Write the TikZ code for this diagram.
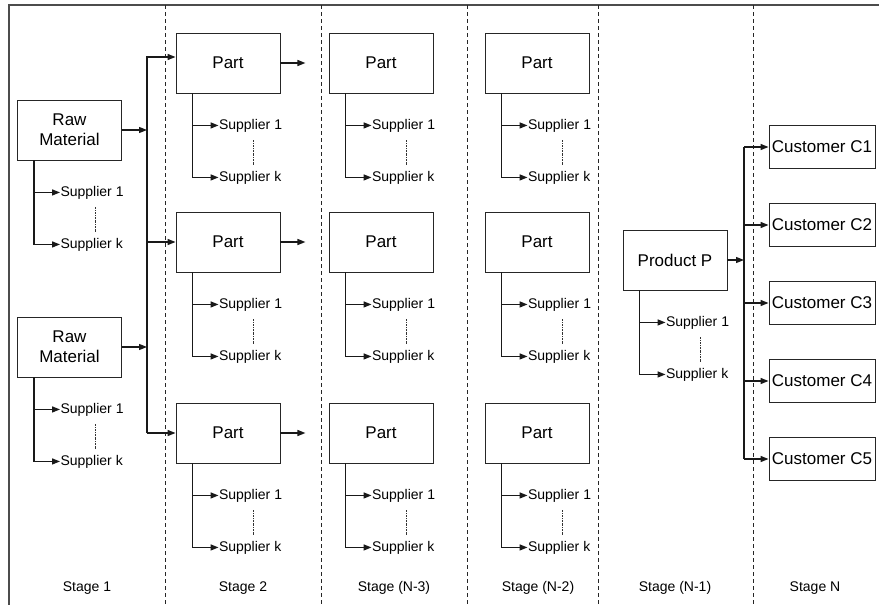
\documentclass[tikz,border=0pt]{standalone}
\usepackage{fontspec}
\setmainfont{Liberation Sans}
\usetikzlibrary{arrows.meta,calc}

% supplier branch hanging below a box: Supplier 1 ... Supplier k
\newcommand{\supplierpair}[1]{%
  \coordinate (#1v) at ($(#1.south west)+(17,0)$);
  \node[suptext] (#1s1) at ($(#1v)+(26,32)$) {Supplier 1};
  \node[suptext] (#1sk) at ($(#1v)+(26,84)$) {Supplier k};
  \draw[arr] (#1v) |- (#1sk.west);
  \draw[arr] (#1v |- #1s1.west) -- (#1s1.west);
  \draw[gap] ($(#1s1.west)+(35,15)$) -- ($(#1sk.west)+(35,-12)$);
}

\begin{document}
\begin{tikzpicture}[x=1pt,y=-1pt,
  box/.style={draw=black!85,line width=0.9pt,minimum width=104pt,minimum height=60pt,
    inner sep=2pt,font=\fontsize{17}{20}\selectfont,align=center},
  custbox/.style={box,minimum width=106pt,minimum height=43pt},
  link/.style={line width=1.3pt,draw=black!90},
  arr/.style={link,-{Triangle[length=8pt,width=6pt]}},
  suptext/.style={anchor=west,inner sep=0.3pt,font=\fontsize{14}{16}\selectfont},
  stagetext/.style={inner sep=0pt,font=\fontsize{14}{16}\selectfont},
  gap/.style={line width=0.7pt,dash pattern=on 2pt off 1pt on 0.6pt off 1pt,draw=black!80},
  divider/.style={line width=0.9pt,dash pattern=on 4pt off 3pt,draw=black!85},
  frame/.style={line width=1.6pt,draw=black!70}]

\useasboundingbox (0,0) rectangle (879,605);

% outer frame (top and left edges)
\draw[frame] (9,605) -- (9,5) -- (879,5);

% stage dividers
\foreach \xd in {165,321,467,598,753}{
  \draw[divider] (\xd,5) -- (\xd,605);
}

% stage 1: raw materials
\node[box] (raw1) at (69.5,130) {Raw\\Material};
\node[box] (raw2) at (69.5,347) {Raw\\Material};
\supplierpair{raw1}
\supplierpair{raw2}

% stage 2, (N-3), (N-2): parts
\node[box] (p21) at (228,63)  {Part};
\node[box] (p22) at (228,242) {Part};
\node[box] (p23) at (228,433) {Part};
\node[box] (p31) at (381,63)  {Part};
\node[box] (p32) at (381,242) {Part};
\node[box] (p33) at (381,433) {Part};
\node[box] (p41) at (537,63)  {Part};
\node[box] (p42) at (537,242) {Part};
\node[box] (p43) at (537,433) {Part};
\supplierpair{p21}
\supplierpair{p22}
\supplierpair{p23}
\supplierpair{p31}
\supplierpair{p32}
\supplierpair{p33}
\supplierpair{p41}
\supplierpair{p42}
\supplierpair{p43}

% raw materials feed the parts through a common bus
\coordinate (busA) at (147,0);
\coordinate (in21) at ([yshift=6pt]p21.west);
\draw[arr] (raw1.east) -- (raw1.east -| busA);
\draw[arr] (raw2.east) -- (raw2.east -| busA);
\draw[arr] (busA |- p23.west) |- (in21);
\draw[arr] (busA |- p22.west) -- (p22.west);
\draw[arr] (busA |- p23.west) -- (p23.west);

% parts pass on to the next stage
\coordinate (p21out) at ($(p21.east)+(25,0)$);
\coordinate (p22out) at ($(p22.east)+(25,0)$);
\coordinate (p23out) at ($(p23.east)+(25,0)$);
\draw[arr] (p21.east) -- (p21out);
\draw[arr] (p22.east) -- (p22out);
\draw[arr] (p23.east) -- (p23out);

% stage (N-1): product
\node[box] (prod) at (675,260) {Product P};
\supplierpair{prod}

% stage N: customers
\node[custbox] (c1) at (822,147) {Customer C1};
\node[custbox] (c2) at (822,225) {Customer C2};
\node[custbox] (c3) at (822,303) {Customer C3};
\node[custbox] (c4) at (822,381) {Customer C4};
\node[custbox] (c5) at (822,459) {Customer C5};

\coordinate (busB) at (744,0);
\draw[arr] (prod.east) -- (prod.east -| busB);
\draw[link] (busB |- c1.west) -- (busB |- c5.west);
\draw[arr] (busB |- c1.west) -- (c1.west);
\draw[arr] (busB |- c2.west) -- (c2.west);
\draw[arr] (busB |- c3.west) -- (c3.west);
\draw[arr] (busB |- c4.west) -- (c4.west);
\draw[arr] (busB |- c5.west) -- (c5.west);

% stage captions
\node[stagetext] (st1) at (87,588)  {Stage 1};
\node[stagetext] (st2) at (243,588) {Stage 2};
\node[stagetext] (st3) at (394,588) {Stage (N-3)};
\node[stagetext] (st4) at (538,588) {Stage (N-2)};
\node[stagetext] (st5) at (675,588) {Stage (N-1)};
\node[stagetext] (st6) at (815,588) {Stage N};

\end{tikzpicture}
\end{document}
